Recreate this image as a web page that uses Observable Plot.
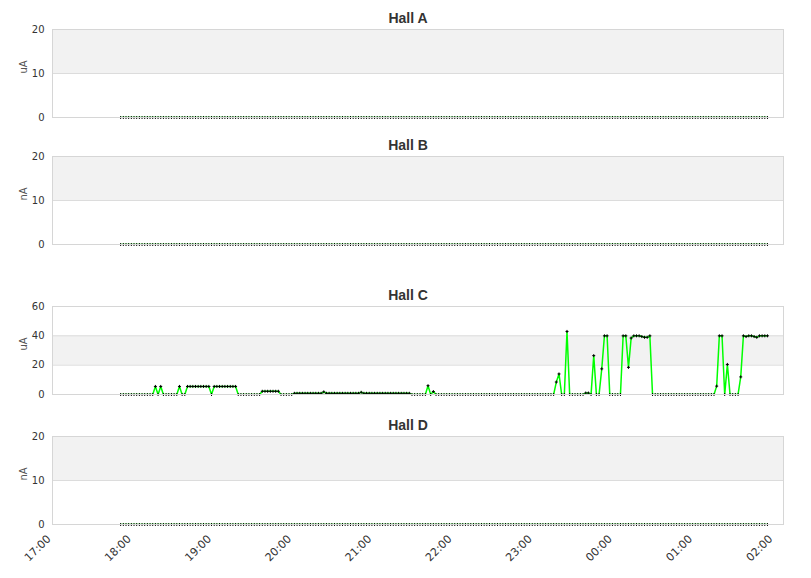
<!DOCTYPE html>
<html><head><meta charset="utf-8">
<script src="https://cdn.jsdelivr.net/npm/d3@7"></script>
<script src="https://cdn.jsdelivr.net/npm/@observablehq/plot@0.6"></script>
<style>
body{margin:0;background:#fff;}
#chart{position:relative;width:811px;height:578px;}
#chart svg{display:block;}
</style></head><body><div id="chart"></div>
<script>
// ---- data ----
const hallNames = ["Hall A", "Hall B", "Hall C", "Hall D"];
const hallUnits = ["uA", "nA", "uA", "nA"];
const sampleStart = "2020-01-01T17:51:00Z";
const sampleStepMinutes = 2;
const hourTickLabels = ["17:00","18:00","19:00","20:00","21:00","22:00","23:00","00:00","01:00","02:00"];
const hourTickTimes = ["2020-01-01T17:00Z","2020-01-01T18:00Z","2020-01-01T19:00Z","2020-01-01T20:00Z","2020-01-01T21:00Z","2020-01-01T22:00Z","2020-01-01T23:00Z","2020-01-02T00:00Z","2020-01-02T01:00Z","2020-01-02T02:00Z"];
const xDomainTimes = ["2020-01-01T17:00Z", "2020-01-02T02:07Z"];
const yTicksSmall = [0, 10, 20];
const yTicksC = [0, 20, 40, 60];

const hallA = [
0,0,0,0,0,0,0,0,0,0, 0,0,0,0,0,0,0,0,0,0, 0,0,0,0,0,0,0,0,0,0, 0,0,0,0,0,0,0,0,0,0,
0,0,0,0,0,0,0,0,0,0, 0,0,0,0,0,0,0,0,0,0, 0,0,0,0,0,0,0,0,0,0, 0,0,0,0,0,0,0,0,0,0,
0,0,0,0,0,0,0,0,0,0, 0,0,0,0,0,0,0,0,0,0, 0,0,0,0,0,0,0,0,0,0, 0,0,0,0,0,0,0,0,0,0,
0,0,0,0,0,0,0,0,0,0, 0,0,0,0,0,0,0,0,0,0, 0,0,0,0,0,0,0,0,0,0, 0,0,0,0,0,0,0,0,0,0,
0,0,0,0,0,0,0,0,0,0, 0,0,0,0,0,0,0,0,0,0, 0,0,0,0,0,0,0,0,0,0, 0,0,0,0,0,0,0,0,0,0,
0,0,0,0,0,0,0,0,0,0, 0,0,0,0,0,0,0,0,0,0, 0,0,0,0,0,0,0,0,0,0, 0,0,0,0,0,0,0,0,0,0,
0,0,0];
const hallB = [
0,0,0,0,0,0,0,0,0,0, 0,0,0,0,0,0,0,0,0,0, 0,0,0,0,0,0,0,0,0,0, 0,0,0,0,0,0,0,0,0,0,
0,0,0,0,0,0,0,0,0,0, 0,0,0,0,0,0,0,0,0,0, 0,0,0,0,0,0,0,0,0,0, 0,0,0,0,0,0,0,0,0,0,
0,0,0,0,0,0,0,0,0,0, 0,0,0,0,0,0,0,0,0,0, 0,0,0,0,0,0,0,0,0,0, 0,0,0,0,0,0,0,0,0,0,
0,0,0,0,0,0,0,0,0,0, 0,0,0,0,0,0,0,0,0,0, 0,0,0,0,0,0,0,0,0,0, 0,0,0,0,0,0,0,0,0,0,
0,0,0,0,0,0,0,0,0,0, 0,0,0,0,0,0,0,0,0,0, 0,0,0,0,0,0,0,0,0,0, 0,0,0,0,0,0,0,0,0,0,
0,0,0,0,0,0,0,0,0,0, 0,0,0,0,0,0,0,0,0,0, 0,0,0,0,0,0,0,0,0,0, 0,0,0,0,0,0,0,0,0,0,
0,0,0];
const hallC = [
/*0-12*/ 0,0,0,0,0,0,0,0,0,0,0,0,0,
/*13-15*/ 5.5,0,5.5,
/*16-21*/ 0,0,0,0,0,0,
/*22*/ 5.5,
/*23-24*/ 0,0,
/*25-33*/ 5.5,5.5,5.5,5.5,5.5,5.5,5.5,5.5,5.5,
/*34*/ 0,
/*35-43*/ 5.5,5.5,5.5,5.5,5.5,5.5,5.5,5.5,5.5,
/*44-52*/ 0,0,0,0,0,0,0,0,0,
/*53-59*/ 2.2,2.2,2.2,2.2,2.2,2.2,2.2,
/*60-64*/ 0,0,0,0,0,
/*65-75*/ 0.8,0.8,0.8,0.8,0.8,0.8,0.8,0.8,0.8,0.8,0.8,
/*76-86*/ 1.8,0.8,0.8,0.8,0.8,0.8,0.8,0.8,0.8,0.8,0.8,
/*87-97*/ 0.8,0.8,0.8,1.5,0.8,0.8,0.8,0.8,0.8,0.8,0.8,
/*98-108*/ 0.8,0.8,0.8,0.8,0.8,0.8,0.8,0.8,0.8,0.8,0.8,
/*109-114*/ 0,0,0,0,0,0,
/*115-117*/ 6,0,2,
/*118-162*/ 0,0,0,0,0,0,0,0,0,0,0,0,0,0,0, 0,0,0,0,0,0,0,0,0,0,0,0,0,0,0, 0,0,0,0,0,0,0,0,0,0,0,0,0,0,0,
/*163-167*/ 8.5,14,0,0,43,
/*168-173*/ 0,0,0,0,0,0,
/*174-182*/ 1,1,0,26.5,0,0,17.5,40,40,
/*183-187*/ 0,0,0,0,0,
/*188-198*/ 40,40,18.5,38.5,40,40,40,39.5,39,39,40,
/*199-222*/ 0,0,0,0,0,0,0,0,0,0,0,0, 0,0,0,0,0,0,0,0,0,0,0,0,
/*223-227*/ 5.7,40,40,0,20.5,
/*228-231*/ 0,0,0,0,
/*232*/ 12,
/*233-242*/ 40,39.5,40,40,39.5,39,40,40,40,40];
const hallD = [
0,0,0,0,0,0,0,0,0,0, 0,0,0,0,0,0,0,0,0,0, 0,0,0,0,0,0,0,0,0,0, 0,0,0,0,0,0,0,0,0,0,
0,0,0,0,0,0,0,0,0,0, 0,0,0,0,0,0,0,0,0,0, 0,0,0,0,0,0,0,0,0,0, 0,0,0,0,0,0,0,0,0,0,
0,0,0,0,0,0,0,0,0,0, 0,0,0,0,0,0,0,0,0,0, 0,0,0,0,0,0,0,0,0,0, 0,0,0,0,0,0,0,0,0,0,
0,0,0,0,0,0,0,0,0,0, 0,0,0,0,0,0,0,0,0,0, 0,0,0,0,0,0,0,0,0,0, 0,0,0,0,0,0,0,0,0,0,
0,0,0,0,0,0,0,0,0,0, 0,0,0,0,0,0,0,0,0,0, 0,0,0,0,0,0,0,0,0,0, 0,0,0,0,0,0,0,0,0,0,
0,0,0,0,0,0,0,0,0,0, 0,0,0,0,0,0,0,0,0,0, 0,0,0,0,0,0,0,0,0,0, 0,0,0,0,0,0,0,0,0,0,
0,0,0];

// ---- build ----
const seriesList = [hallA, hallB, hallC, hallD];
const t0 = Date.parse(sampleStart);
const xDomain = xDomainTimes.map(s => new Date(s));
const hourTicks = hourTickTimes.map((s, i) => ({t: new Date(s), label: hourTickLabels[i]}));

const crossSymbol = {
  draw(ctx) {
    const a = 1.5;
    ctx.moveTo(-a, 0); ctx.lineTo(a, 0);
    ctx.moveTo(0, -a); ctx.lineTo(0, a);
  }
};

const layouts = [
  {height: 130, marginTop: 29, marginBottom: 13, yDomain: [0, 20], ticks: yTicksSmall, bands: [[10, 20]]},
  {height: 130, marginTop: 26, marginBottom: 16, yDomain: [0, 20], ticks: yTicksSmall, bands: [[10, 20]]},
  {height: 150, marginTop: 46, marginBottom: 16, yDomain: [0, 60], ticks: yTicksC, bands: [[20, 40]]},
  {height: 168, marginTop: 26, marginBottom: 54, yDomain: [0, 20], ticks: yTicksSmall, bands: [[10, 20]], xAxis: true}
];

const chart = document.getElementById("chart");
layouts.forEach((L, k) => {
  const values = seriesList[k];
  const data = values.map((v, i) => ({t: new Date(t0 + i * sampleStepMinutes * 60000), v}));
  const marks = [
    Plot.rect(L.bands, {x1: () => xDomain[0], x2: () => xDomain[1], y1: d => d[0], y2: d => d[1], fill: "#f2f2f2"}),
    Plot.ruleY(L.ticks, {stroke: "#dcdcdc"}),
    Plot.line(data, {x: "t", y: "v", stroke: "#00ff00", strokeWidth: 1.5, clip: true}),
    Plot.dot(data, {x: "t", y: "v", symbol: crossSymbol, stroke: "#000", fill: "none", strokeWidth: 1}),
    Plot.frame({stroke: "#d6d6d6"}),
    Plot.text(L.ticks, {y: d => d, frameAnchor: "left", dx: -8, textAnchor: "end", text: d => String(d), fill: "#333", fontSize: 10}),
    Plot.text([hallUnits[k]], {frameAnchor: "left", dx: -29, rotate: -90, text: d => d, fill: "#555", fontSize: 10}),
    Plot.text([hallNames[k]], {frameAnchor: "top", lineAnchor: "middle", dx: -10, dy: -11, text: d => d, fill: "#333", fontSize: 14, fontWeight: "bold", fontFamily: "Liberation Sans, Arial, sans-serif"})
  ];
  if (L.xAxis) {
    marks.push(Plot.text(hourTicks, {x: "t", text: "label", frameAnchor: "bottom", rotate: -45, textAnchor: "end", dx: -1, dy: 15, fill: "#333", fontSize: 11}));
  }
  const svg = Plot.plot({
    width: 811, height: L.height,
    marginLeft: 52, marginRight: 28, marginTop: L.marginTop, marginBottom: L.marginBottom,
    style: {fontFamily: "DejaVu Sans, sans-serif", background: "transparent", overflow: "visible"},
    x: {type: "utc", domain: xDomain, axis: null},
    y: {domain: L.yDomain, axis: null},
    marks
  });
  chart.appendChild(svg);
});
</script></body></html>
